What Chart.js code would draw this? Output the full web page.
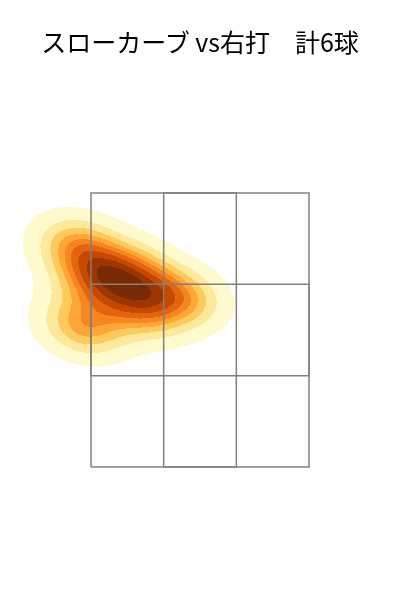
<!DOCTYPE html>
<html><head><meta charset="utf-8">
<script src="https://cdn.jsdelivr.net/npm/chart.js@4.4.1/dist/chart.umd.min.js"></script>
<style>
html,body{margin:0;padding:0;background:#fff;}
#wrap{position:relative;width:400px;height:600px;}
canvas{position:absolute;left:0;top:0;}
#title{position:absolute;left:0;top:29px;width:400px;text-align:center;font-family:"Noto Sans CJK JP";font-size:25px;line-height:25px;color:#000;white-space:pre;}
</style></head><body>
<div id="wrap"><canvas id="c" width="400" height="600"></canvas><div id="title"></div></div>
<script>
// ---- data ----
const titleText = "スローカーブ vs右打　計6球";
// pitch locations in strike-zone cell units (x: 0..3 left→right, y: 0..3 bottom→top)
const pitchX = [0.067, 0.557, 0.681, 1.219, -0.164, -0.109];
const pitchY = [2.025, 2.151, 1.727, 1.868, 2.411, 1.535];
// strike zone grid edges
const zoneXEdges = [0, 1, 2, 3];
const zoneYEdges = [0, 1, 2, 3];
// KDE settings (seaborn kdeplot style: 10 levels, thresh 0.05)
const kdeLevels = 10, kdeThresh = 0.05, kdeGrid = 200, kdeCut = 3;
const ylorbr = ['#ffffe5','#fff7bc','#fee391','#fec44f','#fe9929','#ec7014','#cc4c02','#993404','#662506'];

document.getElementById('title').textContent = titleText;

// view window (layout)
const pxPerX = 218/3, pxPerY = 274/3;
const viewX = [-91/pxPerX, (400-91)/pxPerX];
const viewY = [(467-600)/pxPerY, 467/pxPerY];

function rect(x0,x1,y0,y1){return [{x:x0,y:y0},{x:x1,y:y0},{x:x1,y:y1},{x:x0,y:y1},{x:x0,y:y0}];}
const zx = zoneXEdges, zy = zoneYEdges;

function hex2rgb(h){return [parseInt(h.slice(1,3),16),parseInt(h.slice(3,5),16),parseInt(h.slice(5,7),16)];}
const cmapRGB = ylorbr.map(hex2rgb);
function cmap(t){
  t = Math.max(0, Math.min(1, t));
  const idx = Math.min(255, Math.floor(t*256));
  const u = idx/255*(cmapRGB.length-1);
  const k = Math.min(cmapRGB.length-2, Math.floor(u)); const f = u-k;
  return cmapRGB[k].map((v,i)=>Math.round(v+(cmapRGB[k+1][i]-v)*f));
}

// Gaussian KDE (Scott bandwidth) + iso-proportion levels
function buildKDE(){
  const n = pitchX.length;
  const mx = pitchX.reduce((a,b)=>a+b,0)/n, my = pitchY.reduce((a,b)=>a+b,0)/n;
  let sxx=0, syy=0, sxy=0;
  for(let i=0;i<n;i++){const dx=pitchX[i]-mx, dy=pitchY[i]-my; sxx+=dx*dx; syy+=dy*dy; sxy+=dx*dy;}
  sxx/=(n-1); syy/=(n-1); sxy/=(n-1);
  const f = Math.pow(n, -1/6), f2 = f*f;
  const a = sxx*f2, b = sxy*f2, c = syy*f2;
  const det = a*c-b*b;
  const ia = c/det, ib = -b/det, ic = a/det;
  const norm = 1/(2*Math.PI*Math.sqrt(det))/n;
  const dens = (x,y)=>{let s=0; for(let i=0;i<n;i++){const dx=x-pitchX[i], dy=y-pitchY[i]; s+=Math.exp(-0.5*(ia*dx*dx+2*ib*dx*dy+ic*dy*dy));} return s*norm;};
  const bwx = f*Math.sqrt(sxx), bwy = f*Math.sqrt(syy);
  const x0 = Math.min(...pitchX)-kdeCut*bwx, x1 = Math.max(...pitchX)+kdeCut*bwx;
  const y0 = Math.min(...pitchY)-kdeCut*bwy, y1 = Math.max(...pitchY)+kdeCut*bwy;
  const vals = [];
  for(let j=0;j<kdeGrid;j++){const y=y0+(y1-y0)*j/(kdeGrid-1); for(let i=0;i<kdeGrid;i++){vals.push(dens(x0+(x1-x0)*i/(kdeGrid-1), y));}}
  const total = vals.reduce((s,v)=>s+v,0);
  const sorted = vals.slice().sort((p,q)=>q-p);
  const cum = []; let acc=0; for(const v of sorted){acc+=v; cum.push(acc/total);}
  const levels = [];
  for(let k=0;k<kdeLevels;k++){
    const p = kdeThresh + (1-kdeThresh)*k/(kdeLevels-1);
    const target = 1-p;
    let lo=0, hi=cum.length; while(lo<hi){const mid=(lo+hi)>>1; if(cum[mid]<target) lo=mid+1; else hi=mid;}
    levels.push(sorted[Math.min(lo, sorted.length-1)]);
  }
  const L0 = levels[0], Lm = levels[levels.length-1];
  const colors = [];
  for(let k=0;k<levels.length-1;k++){colors.push(cmap(((levels[k]+levels[k+1])/2-L0)/(Lm-L0)));}
  return {dens, levels, colors};
}

const kdePlugin = {
  id: 'kdeFill',
  beforeDatasetsDraw(chart){
    const {dens, levels, colors} = buildKDE();
    const xs = chart.scales.x, ys = chart.scales.y, ar = chart.chartArea;
    const W = Math.round(ar.right-ar.left), H = Math.round(ar.bottom-ar.top);
    const off = document.createElement('canvas'); off.width=W; off.height=H;
    const octx = off.getContext('2d'); const img = octx.createImageData(W,H);
    for(let py=0;py<H;py++){
      const y = ys.getValueForPixel(ar.top+py+0.5);
      for(let px=0;px<W;px++){
        const x = xs.getValueForPixel(ar.left+px+0.5);
        const d = dens(x,y);
        if(d < levels[0]) continue;
        let k = 0; while(k < levels.length-2 && d >= levels[k+1]) k++;
        const col = colors[k]; const o = (py*W+px)*4;
        img.data[o]=col[0]; img.data[o+1]=col[1]; img.data[o+2]=col[2]; img.data[o+3]=255;
      }
    }
    octx.putImageData(img,0,0);
    chart.ctx.drawImage(off, ar.left, ar.top);
  }
};

const lineStyle = {showLine:true, pointRadius:0, borderColor:'#808080', borderWidth:1.5, fill:false, tension:0};
new Chart(document.getElementById('c'), {
  type: 'scatter',
  data: { datasets: [
    {label:'pitches', data: pitchX.map((x,i)=>({x, y:pitchY[i]})), pointRadius:0, showLine:false},
    Object.assign({label:'zone', data: rect(zx[0],zx[3],zy[0],zy[3])}, lineStyle),
    Object.assign({label:'zone-col', data: rect(zx[1],zx[2],zy[0],zy[3])}, lineStyle),
    Object.assign({label:'zone-row', data: rect(zx[0],zx[3],zy[1],zy[2])}, lineStyle)
  ]},
  options: {
    responsive:false, animation:false, devicePixelRatio:1,
    layout:{padding:0, autoPadding:false},
    plugins:{legend:{display:false}, tooltip:{enabled:false}, title:{display:false}},
    scales:{
      x:{type:'linear', display:false, min:viewX[0], max:viewX[1]},
      y:{type:'linear', display:false, min:viewY[0], max:viewY[1]}
    }
  },
  plugins:[kdePlugin]
});
</script>
</body></html>
